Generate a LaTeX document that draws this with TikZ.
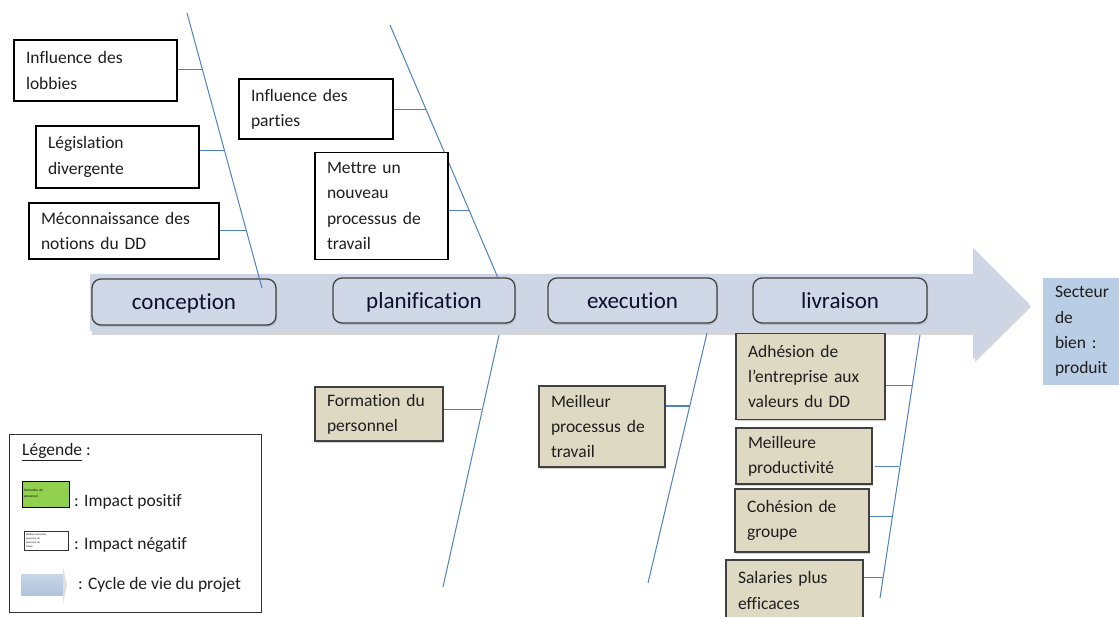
\documentclass[tikz,border=0pt]{standalone}
\usepackage{fontspec}
\setmainfont{Carlito}[Ligatures=NoCommon]
\usetikzlibrary{shadows}

\definecolor{spine}{RGB}{79,129,189}
\definecolor{flow}{RGB}{206,214,229}
\definecolor{flowdark}{RGB}{160,165,175}
\definecolor{phasefill}{RGB}{208,216,231}
\definecolor{phaseline}{RGB}{64,64,64}
\definecolor{tan}{RGB}{221,217,195}
\definecolor{sector}{RGB}{185,205,229}
\definecolor{legendgreen}{RGB}{146,208,80}
\definecolor{ink}{RGB}{30,30,30}

\tikzset{
  causetext/.style={font=\fontsize{17.5}{25.3}\selectfont, text=ink, align=left,
    inner xsep=12pt, inner ysep=0pt},
  negbox/.style={causetext, draw=black, line width=1.1pt, fill=white},
  posbox/.style={causetext, draw=phaseline, line width=1.6pt, fill=tan,
    drop shadow={shadow xshift=1pt, shadow yshift=-1.5pt, opacity=0.35}},
  phasebox/.style={draw=phaseline, line width=1.3pt, fill=phasefill,
    rounded corners=9pt, font=\fontsize{23}{26}\selectfont, text=ink!80!blue!60!black,
    text height=21pt, text depth=5pt, inner ysep=0pt,
    drop shadow={shadow xshift=1pt, shadow yshift=-2pt, opacity=0.3}},
  spineline/.style={draw=spine, line width=1pt},
  twig/.style={draw=spine, line width=1pt},
  plain/.style={font=\fontsize{17.5}{25.3}\selectfont, text=ink, inner sep=0pt, anchor=west},
}

\begin{document}
\begin{tikzpicture}[x=1pt, y=-1pt]
\useasboundingbox (0,0) rectangle (1119,617);
\fill[white] (0,0) rectangle (1119,617);

% main life-cycle arrow with its soft shadow
\fill[flowdark, opacity=0.45] (92,278) -- (975,278) -- (975,251) -- (1031,307)
  -- (975,362) -- (975,335) -- (92,335) -- cycle;
\fill[flow] (90,274) -- (973,274) -- (973,248) -- (1029,304)
  -- (973,359) -- (973,331) -- (90,331) -- cycle;

% project phases
\node[phasebox, minimum width=184pt, minimum height=46pt] (conception)    at (184,302)   {conception};
\node[phasebox, minimum width=182pt, minimum height=45pt] (planification) at (424,300.5) {planification};
\node[phasebox, minimum width=169pt, minimum height=45pt] (execution)     at (632.5,300.5) {execution};
\node[phasebox, minimum width=174pt, minimum height=45pt] (livraison)     at (840,300.5) {livraison};

% outcome
\node[fill=sector, minimum width=76pt, minimum height=107pt, inner xsep=12pt, inner ysep=0pt,
  text width=52pt, align=left, font=\fontsize{17.5}{25.3}\selectfont, text=ink]
  (secteur) at (1081,331.5) {Secteur\\de\\bien :\\produit};

% spines of the diagram
\coordinate (s1a) at (187,13);  \coordinate (s1b) at (262,288);
\coordinate (s2a) at (390,25);  \coordinate (s2b) at (498,278);
\coordinate (s3a) at (499,335); \coordinate (s3b) at (443,587);
\coordinate (s4a) at (707,333); \coordinate (s4b) at (648,583);
\coordinate (s5a) at (920,335); \coordinate (s5b) at (880,598);
\foreach \a/\b in {s1a/s1b, s2a/s2b, s3a/s3b, s4a/s4b, s5a/s5b}
  \draw[spineline] (\a) -- (\b);

% points where the causes join the spines
\coordinate (j1) at (202.5,70);
\coordinate (j2) at (224.6,151);
\coordinate (j3) at (246.5,231);
\coordinate (j4) at (426.3,110);
\coordinate (j5) at (469.4,211);
\coordinate (j6) at (481,409);
\coordinate (j7) at (689.5,406);
\coordinate (j8) at (912.2,386);
\coordinate (j9) at (899,466);
\coordinate (j10) at (892,516);
\coordinate (j11) at (883.2,577);

% negative impacts
\node[negbox, minimum width=163pt, minimum height=61pt, text width=139pt] (lobbies) at (95.5,70.5)
  {Influence des\\lobbies};
\node[negbox, minimum width=163pt, minimum height=62pt, text width=139pt] (legis) at (117.5,157)
  {Législation\\divergente};
\node[negbox, minimum width=190pt, minimum height=56pt, text width=166pt] (mecon) at (124,231)
  {Méconnaissance des\\notions du DD};
\node[negbox, minimum width=154pt, minimum height=60pt, text width=130pt] (parties) at (316,109)
  {Influence des\\parties};
\node[negbox, minimum width=133pt, minimum height=107pt, text width=109pt] (mettre) at (381.5,206)
  {Mettre un\\nouveau\\processus de\\travail};

% positive impacts
\node[posbox, minimum width=128pt, minimum height=54pt, text width=104pt] (formation) at (379,414)
  {Formation du\\personnel};
\node[posbox, minimum width=126pt, minimum height=81pt, text width=102pt] (meilleurproc) at (602,426.5)
  {Meilleur\\processus de\\travail};
\node[posbox, minimum width=149pt, minimum height=86pt, text width=125pt] (adhesion) at (810.5,376.5)
  {Adhésion de\\l’entreprise aux\\valeurs du DD};
\node[posbox, minimum width=136pt, minimum height=56pt, text width=112pt] (productivite) at (804,456)
  {Meilleure\\productivité};
\node[posbox, minimum width=134pt, minimum height=63pt, text width=110pt] (cohesion) at (802,520.5)
  {Cohésion de\\groupe};
\node[posbox, minimum width=137pt, minimum height=61pt, text width=113pt] (salaries) at (794.5,590.5)
  {Salaries plus\\efficaces};

% cause-to-spine connectors
\draw[twig] (lobbies.east |- j1) -- (j1);
\draw[twig] (legis.east |- j2) -- (j2);
\draw[twig] (mecon.east |- j3) -- (j3);
\draw[twig] (parties.east |- j4) -- (j4);
\draw[twig] (mettre.east |- j5) -- (j5);
\draw[twig] (formation.east |- j6) -- (j6);
\draw[twig] (meilleurproc.east |- j7) -- (j7);
\draw[twig] (adhesion.east |- j8) -- (j8);
\draw[twig] ([xshift=2pt]productivite.east |- j9) -- (j9);
\draw[twig] (cohesion.east |- j10) -- (j10);
\draw[twig] (salaries.east |- j11) -- (j11);

% legend
\node[draw=black!80, line width=1pt, minimum width=252pt, minimum height=178pt, inner sep=0pt]
  (legend) at (135,523) {};
\node[plain] (legtitle) at (22,452) {\underline{Légende} :};
\node[draw=black, line width=0.8pt, fill=legendgreen, minimum width=47pt, minimum height=26pt,
  inner xsep=2pt, inner ysep=2pt, text width=43pt, align=left,
  font=\fontsize{3.4}{6}\selectfont] (legpos) at (45.5,494) {Formation du\\personnel};
\node[plain] (legpostext) at (74,502) {: Impact positif};
\node[draw=black!80, line width=0.8pt, fill=white, minimum width=44pt, minimum height=19pt,
  inner xsep=2pt, inner ysep=1pt, text width=40pt, align=left,
  font=\fontsize{2.6}{3.8}\selectfont] (legneg) at (46,540.5)
  {Meilleur processus\\processus de\\processus de\\travail};
\node[plain] (legnegtext) at (74,545) {: Impact négatif};
\shade[top color=sector!80!white, bottom color=sector!95!black] (21,574) rectangle (63,595);
\fill[black!12] (63,567) -- (67,585) -- (63,604) -- cycle;
\node[plain] (legcycle) at (78,585) {: Cycle de vie du projet};
\end{tikzpicture}
\end{document}
